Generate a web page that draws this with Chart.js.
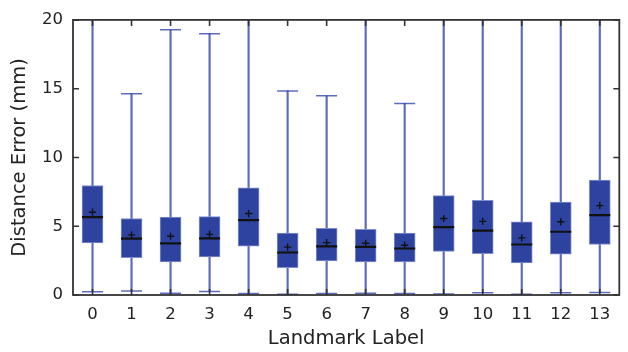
<!DOCTYPE html>
<html>
<head>
<meta charset="utf-8">
<script src="https://cdn.jsdelivr.net/npm/chart.js@4"></script>
<style>
  html, body { margin: 0; padding: 0; background: #fff; overflow: hidden; }
  #wrap { width: 632px; height: 352px; }
</style>
</head>
<body>
<div id="wrap"><canvas id="myChart" width="632" height="352"></canvas></div>
<script>
// landmark labels on the x axis
const categories = ['0', '1', '2', '3', '4', '5', '6', '7', '8', '9', '10', '11', '12', '13'];
// box plot statistics per landmark (mm)
const q1Values     = [3.79, 2.71, 2.40, 2.76, 3.55, 1.99, 2.47, 2.40, 2.40, 3.17, 3.00, 2.33, 2.97, 3.67];
const medianValues = [5.66, 4.10, 3.76, 4.12, 5.44, 3.09, 3.53, 3.50, 3.38, 4.94, 4.68, 3.67, 4.60, 5.80];
const q3Values     = [7.96, 5.56, 5.66, 5.70, 7.79, 4.51, 4.84, 4.77, 4.51, 7.22, 6.88, 5.32, 6.76, 8.35];
const meanValues   = [6.02, 4.37, 4.27, 4.41, 5.92, 3.48, 3.81, 3.76, 3.62, 5.56, 5.35, 4.15, 5.32, 6.50];
const whiskerLow   = [0.24, 0.29, 0.12, 0.26, 0.10, 0.05, 0.10, 0.12, 0.10, 0.07, 0.17, 0.05, 0.17, 0.19];
// whiskers above 20 run off the top of the plot
const whiskerHigh  = [30, 14.63, 19.28, 19.00, 30, 14.84, 14.48, 30, 13.93, 30, 30, 30, 30, 30];
const yTicks = [0, 5, 10, 15, 20];

const boxFill = 'rgb(46,67,160)';
const boxEdge = 'rgb(128,143,208)';
const whiskerColor = 'rgba(52,70,172,0.8)';
const fontName = "'DejaVu Sans', sans-serif";

// frame with inward ticks on all four sides (matplotlib style)
const frameTicks = {
  id: 'frameTicks',
  afterDatasetsDraw(chart) {
    const { ctx, chartArea: a, scales: { x, y } } = chart;
    const len = 6;
    ctx.save();
    ctx.strokeStyle = '#333';
    ctx.lineWidth = 1.6;
    ctx.beginPath();
    x.ticks.forEach((t, i) => {
      const px = x.getPixelForTick(i);
      ctx.moveTo(px, a.top); ctx.lineTo(px, a.top + len);
      ctx.moveTo(px, a.bottom); ctx.lineTo(px, a.bottom - len);
    });
    y.ticks.forEach((t) => {
      const py = y.getPixelForValue(t.value);
      ctx.moveTo(a.left, py); ctx.lineTo(a.left + len, py);
      ctx.moveTo(a.right, py); ctx.lineTo(a.right - len, py);
    });
    ctx.stroke();
    ctx.lineWidth = 1.8;
    ctx.strokeRect(a.left, a.top, a.right - a.left, a.bottom - a.top);
    ctx.restore();
  }
};

const pointSet = (label, data, style, radius, width, order) => ({
  type: 'line',
  label: label,
  data: data,
  showLine: false,
  pointStyle: style,
  pointRadius: radius,
  pointBorderWidth: width,
  pointBorderColor: style === 'line' && label.startsWith('cap') ? whiskerColor : '#111',
  pointBackgroundColor: 'transparent',
  order: order
});

const data = {
  labels: categories,
  datasets: [
    {
      label: 'whisker',
      data: whiskerLow.map((lo, i) => [lo, whiskerHigh[i]]),
      backgroundColor: whiskerColor,
      barThickness: 1.5,
      grouped: false,
      order: 5
    },
    {
      label: 'box',
      data: q1Values.map((lo, i) => [lo, q3Values[i]]),
      backgroundColor: boxFill,
      borderColor: boxEdge,
      borderWidth: 1,
      borderSkipped: false,
      barThickness: 21,
      grouped: false,
      order: 4
    },
    pointSet('capLow', whiskerLow, 'line', 10.5, 1.5, 3),
    pointSet('capHigh', whiskerHigh, 'line', 10.5, 1.5, 3),
    pointSet('median', medianValues, 'line', 10.5, 2.2, 2),
    pointSet('mean', meanValues, 'cross', 3.6, 1.4, 1)
  ]
};

const config = {
  type: 'bar',
  data: data,
  options: {
    responsive: false,
    animation: false,
    events: [],
    layout: { padding: { top: 17, right: 2, left: 0, bottom: 0 } },
    plugins: { legend: { display: false }, tooltip: { enabled: false } },
    scales: {
      x: {
        type: 'category',
        offset: true,
        grid: { display: false, drawTicks: false },
        border: { display: false },
        ticks: {
          padding: 10,
          color: '#222',
          font: { family: fontName, size: 16.5 },
          maxRotation: 0,
          autoSkip: false
        },
        title: {
          display: true,
          text: 'Landmark Label',
          color: '#222',
          font: { family: fontName, size: 19.5 },
          padding: { top: 0, bottom: 1 }
        },
        afterFit(scale) { scale.height = 57; }
      },
      y: {
        min: 0,
        max: 20,
        grid: { display: false, drawTicks: false },
        border: { display: false },
        afterBuildTicks(scale) { scale.ticks = yTicks.map(v => ({ value: v })); },
        ticks: {
          padding: 10,
          color: '#222',
          font: { family: fontName, size: 16.5 }
        },
        title: {
          display: true,
          text: 'Distance Error (mm)',
          color: '#222',
          font: { family: fontName, size: 19.5 },
          padding: { top: 8, bottom: 0 }
        },
        afterFit(scale) { scale.width = 73; }
      }
    }
  },
  plugins: [frameTicks]
};

window.onload = () => {
  new Chart(document.getElementById('myChart'), config);
};
</script>
</body>
</html>
